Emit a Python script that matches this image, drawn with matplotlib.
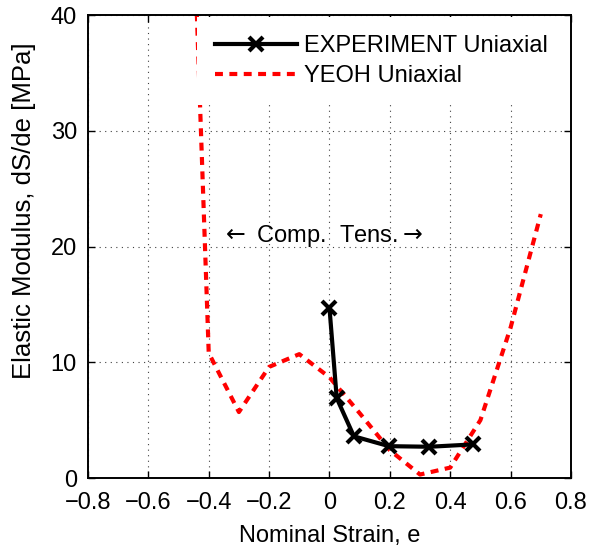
import matplotlib
matplotlib.use('Agg')
import matplotlib.pyplot as plt

plt.rcParams['font.family'] = ['Liberation Sans', 'DejaVu Sans']

# experiment (uniaxial)
exp_strain = [0.0, 0.024, 0.081, 0.197, 0.331, 0.474]
exp_modulus = [14.7, 6.9, 3.6, 2.75, 2.7, 2.9]

# Yeoh model fit
yeoh_strain = [-0.45, -0.4, -0.3, -0.2, -0.1, 0.0, 0.1, 0.2, 0.3, 0.4, 0.5, 0.6, 0.7]
yeoh_modulus = [48.0, 10.8, 5.7, 9.6, 10.7, 8.7, 5.6, 2.4, 0.3, 0.9, 5.0, 13.0, 22.8]

fig = plt.figure(figsize=(5.92, 5.5), dpi=100)
ax = fig.add_axes([0.1486, 0.1309, 0.8159, 0.8418])

ax.plot(exp_strain, exp_modulus, color='black', lw=3, marker='x',
        markersize=10, markeredgewidth=3, label='EXPERIMENT Uniaxial', zorder=3)
ax.plot(yeoh_strain, yeoh_modulus, color='red', lw=3, dashes=(1.9, 1.55),
        label='YEOH Uniaxial', zorder=2)

ax.set_xlim(-0.8, 0.8)
ax.set_ylim(0, 40)
ax.set_xticks([-0.8, -0.6, -0.4, -0.2, 0, 0.2, 0.4, 0.6, 0.8])
ax.set_xticklabels(['\u22120.8', '\u22120.6', '\u22120.4', '\u22120.2', '0', '0.2', '0.4', '0.6', '0.8'])
ax.set_yticks([0, 10, 20, 30, 40])
ax.tick_params(direction='in', top=True, right=True, length=5, width=1,
               labelsize=17, pad=8)
ax.tick_params(axis='x', pad=10)
ax.grid(True, linestyle=(0, (1, 4)), color='0.25', lw=0.8)
for s in ax.spines.values():
    s.set_linewidth(1.4)
    s.set_zorder(4)

ax.set_xlabel('Nominal Strain, e', fontsize=17, labelpad=8)
ax.set_ylabel('Elastic Modulus, dS/de [MPa]', fontsize=18.5)
ax.yaxis.set_label_coords(-0.108, 0.577)

ax.text(-0.36, 20.9, r'$\leftarrow$ Comp.  Tens.$\rightarrow$', fontsize=17,
        va='center', ha='left')

leg = ax.legend(loc='upper left', bbox_to_anchor=(0.2257, 0.995), fontsize=17,
                frameon=True, fancybox=False, framealpha=1, edgecolor='white',
                borderaxespad=0, borderpad=0.75, handlelength=3.5,
                handletextpad=0.3, labelspacing=0.35)
leg.get_frame().set_linewidth(0)
leg.set_zorder(2.4)

fig.savefig('out.png', dpi=100)
